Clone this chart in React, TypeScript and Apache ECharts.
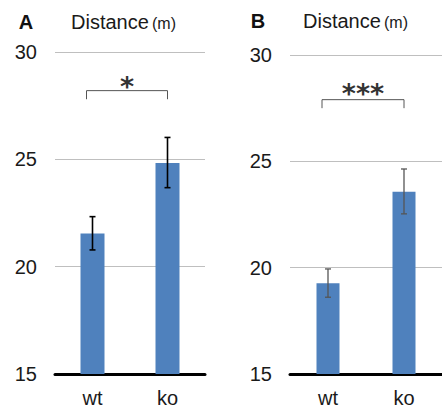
import React, { useEffect, useRef } from "react";
import * as echarts from "echarts";

const categories = ["wt", "ko"];
const yTicks = { min: 15, max: 30, interval: 5 };

const meansA = [21.54, 24.83];
const errLowA = [20.78, 23.68];
const errHighA = [22.33, 26.02];

const meansB = [19.27, 23.57];
const errLowB = [18.61, 22.53];
const errHighB = [19.94, 24.64];

// [fromIndex, toIndex, lineValue, tickBottomValue]
const bracketA = [0, 1, 28.2, 27.8];
const bracketB = [0, 1, 27.9, 27.5];
const starsA = "*";
const starsB = "***";

const panelLetters = ["A", "B"];
const titleMain = "Distance";
const titleUnit = "(m)";

const FONT = "'Liberation Sans', Arial, sans-serif";

function errorSeries(idx: number, lows: number[], highs: number[], color: string, width: number) {
  return {
    type: "custom",
    xAxisIndex: idx,
    yAxisIndex: idx,
    z: 5,
    data: lows.map((l, i) => [i, l, highs[i]]),
    renderItem: (params: any, api: any) => {
      const x = api.value(0);
      const lo = api.coord([x, api.value(1)]);
      const hi = api.coord([x, api.value(2)]);
      const cap = 3;
      const style = { stroke: color, lineWidth: width };
      return {
        type: "group",
        children: [
          { type: "line", shape: { x1: hi[0], y1: hi[1], x2: lo[0], y2: lo[1] }, style },
          { type: "line", shape: { x1: hi[0] - cap, y1: hi[1], x2: hi[0] + cap, y2: hi[1] }, style },
          { type: "line", shape: { x1: lo[0] - cap, y1: lo[1], x2: lo[0] + cap, y2: lo[1] }, style },
        ],
      };
    },
  };
}

function bracketSeries(idx: number, b: number[], stars: string, starGap: number) {
  return {
    type: "custom",
    xAxisIndex: idx,
    yAxisIndex: idx,
    z: 6,
    data: [b],
    renderItem: (params: any, api: any) => {
      const p0 = api.coord([api.value(0), api.value(2)]);
      const p1 = api.coord([api.value(1), api.value(2)]);
      const b0 = api.coord([api.value(0), api.value(3)]);
      const x0 = p0[0] - 6;
      const x1 = p1[0];
      return {
        type: "group",
        children: [
          {
            type: "polyline",
            shape: { points: [[x0, b0[1]], [x0, p0[1]], [x1, p0[1]], [x1, b0[1]]] },
            style: { stroke: "#555", lineWidth: 1, fill: "none" },
          },
          {
            type: "text",
            x: (x0 + x1) / 2,
            y: p0[1] - starGap,
            style: {
              text: stars,
              fontFamily: "'DejaVu Sans', sans-serif",
              fontSize: 27,
              fontWeight: "bold",
              fill: "#333",
              align: "center",
              verticalAlign: "middle",
            },
          },
        ],
      };
    },
  };
}

export default function App() {
  const ref = useRef<HTMLDivElement>(null);
  useEffect(() => {
    if (!ref.current) return;
    const chart = echarts.init(ref.current, null, { renderer: "svg" });
    const grids = [
      { left: 55, width: 150, top: 52, bottom: 36 },
      { left: 290, width: 152, top: 55, bottom: 36 },
    ];
    const xAxis = grids.map((_, i) => ({
      type: "category",
      gridIndex: i,
      data: categories,
      axisLine: { lineStyle: { color: "#000", width: 3 } },
      axisTick: { show: false },
      axisLabel: { color: "#1a1a1a", fontSize: 20, fontFamily: FONT, margin: 14 },
    }));
    const yAxis = grids.map((_, i) => ({
      type: "value",
      gridIndex: i,
      min: yTicks.min,
      max: yTicks.max,
      interval: yTicks.interval,
      axisLine: { show: false },
      axisTick: { show: false },
      splitLine: { lineStyle: { color: "#bfbfbf", width: 1 } },
      axisLabel: { color: "#1a1a1a", fontSize: 20, fontFamily: FONT, margin: 18 },
    }));
    const barStyle = { color: "#4f81bd" };
    const titles: any[] = [];
    const letterX = [26, 258];
    const mainX = [71, 303];
    const unitX = [152, 384];
    const titleY = [22, 21];
    for (let i = 0; i < 2; i++) {
      titles.push({
        type: "text",
        x: letterX[i],
        y: titleY[i],
        style: {
          text: panelLetters[i],
          fontFamily: FONT,
          fontWeight: "bold",
          fontSize: 20,
          fill: "#111",
          align: "center",
          verticalAlign: "middle",
        },
      });
      titles.push({
        type: "text",
        x: mainX[i],
        y: titleY[i],
        style: {
          text: titleMain,
          fontFamily: FONT,
          fontSize: 20,
          fill: "#1a1a1a",
          align: "left",
          verticalAlign: "middle",
        },
      });
      titles.push({
        type: "text",
        x: unitX[i],
        y: titleY[i] + 1,
        style: {
          text: titleUnit,
          fontFamily: FONT,
          fontSize: 16,
          fill: "#1a1a1a",
          align: "left",
          verticalAlign: "middle",
        },
      });
    }
    chart.setOption({
      animation: false,
      grid: grids,
      xAxis,
      yAxis,
      graphic: titles,
      series: [
        { type: "bar", xAxisIndex: 0, yAxisIndex: 0, data: meansA, barWidth: 24, itemStyle: barStyle },
        { type: "bar", xAxisIndex: 1, yAxisIndex: 1, data: meansB, barWidth: 23, itemStyle: barStyle },
        errorSeries(0, errLowA, errHighA, "#000", 1.6),
        errorSeries(1, errLowB, errHighB, "#555", 1.3),
        bracketSeries(0, bracketA, starsA, 4),
        bracketSeries(1, bracketB, starsB, 6),
      ],
    });
    return () => chart.dispose();
  }, []);
  return <div ref={ref} style={{ width: 442, height: 410, position: "absolute", left: 0, top: 0 }} />;
}
